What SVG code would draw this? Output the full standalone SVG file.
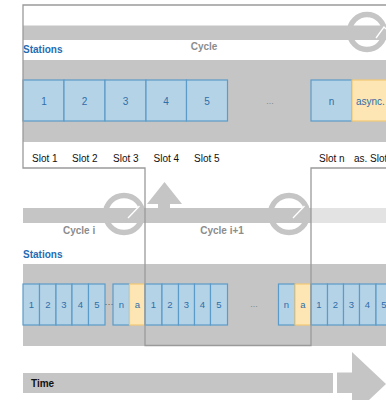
<svg xmlns="http://www.w3.org/2000/svg" width="386" height="400" viewBox="0 0 386 400">
<defs>
<style>
.band{fill:#c5c5c5}
.light{fill:#e3e3e3}
.ring{fill:none;stroke:#c5c5c5;stroke-width:5.5}
.tick{fill:none;stroke:#fff;stroke-width:1.3}
.box{fill:#b5d3e7;stroke:#5b9bc9;stroke-width:1.2}
.abox{fill:#fde6b3;stroke:#f2c874;stroke-width:1.2}
.bt{font-family:"Liberation Sans",Arial,sans-serif;font-size:10px;fill:#2f6ea8;text-anchor:middle}
.bl{font-family:"Liberation Sans",Arial,sans-serif;font-size:10px;fill:#2f6ea8;text-anchor:start}
.st{font-family:"Liberation Sans",Arial,sans-serif;font-size:9.5px;fill:#2f6ea8;text-anchor:middle}
.dots{font-family:"Liberation Sans",Arial,sans-serif;font-size:9px;fill:#888;text-anchor:middle}
.slot{font-family:"Liberation Sans",Arial,sans-serif;font-size:10px;fill:#111}
.sta{font-family:"Liberation Sans",Arial,sans-serif;font-size:10px;font-weight:bold;fill:#1f6db3}
.cyc{font-family:"Liberation Sans",Arial,sans-serif;font-size:10px;font-weight:bold;fill:#8c8c8c}
.time{font-family:"Liberation Sans",Arial,sans-serif;font-size:10px;font-weight:bold;fill:#111}
</style>
</defs>
<rect width="386" height="400" fill="#fff"/>

<g id="top-section">
<rect class="band" x="23" y="25.5" width="363" height="14.5"/>
<rect class="band" x="23" y="60" width="363" height="82"/>
<circle class="ring" cx="367" cy="32" r="17.5"/>
<polyline class="tick" points="376,38 384,27 386,29"/>
<text class="sta" x="23" y="52.5">Stations</text>
<text class="cyc" x="204" y="49.5" text-anchor="middle">Cycle</text>
</g>

<g id="top-slots">
<rect class="box" x="23" y="80" width="41" height="41"/>
<rect class="box" x="64" y="80" width="41" height="41"/>
<rect class="box" x="105" y="80" width="41" height="41"/>
<rect class="box" x="146" y="80" width="40.5" height="41"/>
<rect class="box" x="186.5" y="80" width="41" height="41"/>
<rect class="box" x="311" y="80" width="41" height="41"/>
<rect class="abox" x="352" y="80" width="40" height="41"/>
<text class="bt" x="44" y="104.5">1</text>
<text class="bt" x="84.5" y="104.5">2</text>
<text class="bt" x="125.5" y="104.5">3</text>
<text class="bt" x="166" y="104.5">4</text>
<text class="bt" x="207" y="104.5">5</text>
<text class="dots" x="270" y="104">...</text>
<text class="bt" x="331.5" y="104.5">n</text>
<text class="bl" x="356" y="104.5">async.</text>
</g>

<g id="slot-labels">
<text class="slot" x="32" y="162">Slot 1</text>
<text class="slot" x="72" y="162">Slot 2</text>
<text class="slot" x="113" y="162">Slot 3</text>
<text class="slot" x="153.5" y="162">Slot 4</text>
<text class="slot" x="194" y="162">Slot 5</text>
<text class="slot" x="319" y="162">Slot n</text>
<text class="slot" x="354" y="162">as. Slot</text>
</g>

<g id="cycle-band">
<rect class="band" x="23" y="208" width="288" height="15"/>
<rect class="light" x="311" y="208" width="75" height="15"/>
<circle class="ring" cx="124" cy="214" r="18.5"/>
<polygon class="band" points="134,212 140,204.5 146,215 140,215"/>
<polyline class="tick" points="128,218 139.5,206"/>
<circle class="ring" cx="289" cy="214" r="18.5"/>
<polygon class="band" points="299,212 305,204.5 311,215 305,215"/>
<polyline class="tick" points="293,218 304.5,206"/>
<polygon class="band" points="158,208 158,204 147,204 164.5,182 182,204 170,204 170,208"/>
<text class="cyc" x="63" y="234">Cycle i</text>
<text class="cyc" x="222" y="234" text-anchor="middle">Cycle i+1</text>
<text class="sta" x="23" y="258">Stations</text>
</g>

<g id="bottom-section">
<rect class="band" x="23" y="264" width="363" height="82"/>
</g>

<g id="bottom-slots">
<rect class="box" x="23" y="284" width="16.5" height="41"/>
<rect class="box" x="39.5" y="284" width="16.5" height="41"/>
<rect class="box" x="56" y="284" width="16" height="41"/>
<rect class="box" x="72" y="284" width="16.5" height="41"/>
<rect class="box" x="88.5" y="284" width="16.5" height="41"/>
<rect class="box" x="113" y="284" width="16.5" height="41"/>
<rect class="abox" x="129.5" y="284" width="15.5" height="41"/>
<rect class="box" x="145" y="284" width="17" height="41"/>
<rect class="box" x="162" y="284" width="16.5" height="41"/>
<rect class="box" x="178.5" y="284" width="16" height="41"/>
<rect class="box" x="194.5" y="284" width="16" height="41"/>
<rect class="box" x="210.5" y="284" width="17" height="41"/>
<rect class="box" x="278.5" y="284" width="16.5" height="41"/>
<rect class="abox" x="295" y="284" width="16" height="41"/>
<rect class="box" x="311" y="284" width="16.5" height="41"/>
<rect class="box" x="327.5" y="284" width="16" height="41"/>
<rect class="box" x="343.5" y="284" width="16" height="41"/>
<rect class="box" x="359.5" y="284" width="16.5" height="41"/>
<rect class="box" x="376" y="284" width="16" height="41"/>
<text class="st" x="31.5" y="308">1</text>
<text class="st" x="48" y="308">2</text>
<text class="st" x="64" y="308">3</text>
<text class="st" x="80.5" y="308">4</text>
<text class="st" x="97" y="308">5</text>
<text class="dots" x="109" y="307" style="fill:#555">···</text>
<text class="st" x="121.5" y="308">n</text>
<text class="st" x="137.5" y="308">a</text>
<text class="st" x="153.5" y="308">1</text>
<text class="st" x="170" y="308">2</text>
<text class="st" x="186.5" y="308">3</text>
<text class="st" x="202.5" y="308">4</text>
<text class="st" x="219" y="308">5</text>
<text class="dots" x="254" y="307">...</text>
<text class="st" x="286.5" y="308">n</text>
<text class="st" x="303" y="308">a</text>
<text class="st" x="319" y="308">1</text>
<text class="st" x="335.5" y="308">2</text>
<text class="st" x="351.5" y="308">3</text>
<text class="st" x="367.5" y="308">4</text>
<text class="st" x="384" y="308">5</text>
</g>

<g id="frame">
<polyline points="386,5 23,5 23,168 145,168 145,345.5 311,345.5 311,168 386,168" fill="none" stroke="#9a9a9a" stroke-width="1.3"/>
</g>

<g id="time">
<rect class="band" x="23" y="373" width="310" height="20"/>
<rect class="band" x="337" y="372.5" width="16" height="20.5"/>
<polygon class="band" points="352,352 386,384 352,416"/>
<text class="time" x="31" y="387">Time</text>
</g>
</svg>
